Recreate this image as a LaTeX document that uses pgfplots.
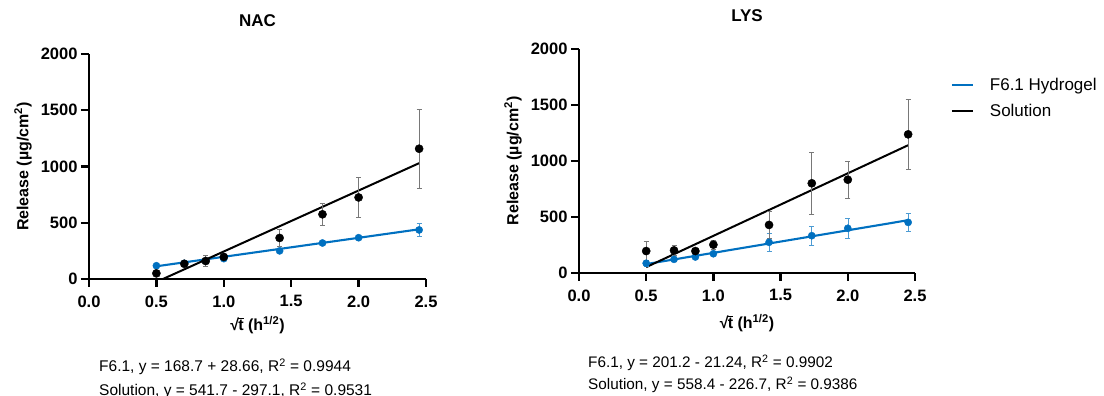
\documentclass[border=0pt]{standalone}
\usepackage{fontspec}
\setmainfont{Liberation Sans}
\usepackage{pgfplots}
\pgfplotsset{compat=1.18}
\definecolor{hblue}{RGB}{0,112,192}
\definecolor{ebgray}{RGB}{120,120,120}
\newcommand{\sqt}{\mbox{√\kern-0.05em$\overline{\mbox{\bfseries t}}$}}
\pgfplotsset{
  relstyle/.style={
    scale only axis,
    xmin=0, xmax=2.5, ymin=0, ymax=2000,
    axis lines=left,
    axis line style={-, line width=2.6pt},
    major tick style={line width=2.4pt, black},
    tick align=outside,
    major tick length=8pt,
    xtick={0,0.5,1,1.5,2,2.5},
    xticklabels={0.0,0.5,1.0,1.5,2.0,2.5},
    ytick={0,500,1000,1500,2000},
    yticklabels={0,500,1000,1500,2000},
    tick label style={font=\bfseries\fontsize{16.5}{16.5}\selectfont},
    xticklabel style={yshift=-5pt},
    /pgf/number format/assume math mode=true,
    xlabel style={at={(axis description cs:0.5,0)}, anchor=center, font=\bfseries\fontsize{16}{16}\selectfont},
    ylabel style={at={(axis description cs:-0.196,0.5)}, anchor=center, font=\bfseries\fontsize{16}{16}\selectfont},
    title style={at={(axis description cs:0.5,1)}, anchor=center, yshift=27pt, font=\bfseries\fontsize{17}{17}\selectfont},
    xlabel={\sqt{} (h\textsuperscript{1/2})},
    ylabel={Release (µg/cm\textsuperscript{2})},
  },
  solerr/.style={only marks, mark=*, mark size=4.1pt, black, mark options={fill=black, draw=black},
    error bars/.cd, y dir=both, y explicit,
    error bar style={ebgray, line width=0.6pt},
    error mark options={rotate=90, mark size=2.5pt, ebgray, line width=0.6pt}},
  hyderr/.style={only marks, mark=*, mark size=3.6pt, hblue, mark options={fill=hblue, draw=hblue},
    error bars/.cd, y dir=both, y explicit,
    error bar style={hblue!70, line width=0.6pt},
    error mark options={rotate=90, mark size=2.5pt, hblue!70, line width=0.6pt}},
}
\begin{document}
\begin{tikzpicture}
\useasboundingbox (0,0) rectangle (1104pt,396pt);
% ---------------- NAC ----------------
\begin{axis}[relstyle, at={(89pt,117pt)}, anchor=south west,
  width=337pt, height=225pt, title={NAC}, xlabel style={yshift=-46pt}]
\addplot[hblue, line width=2.1pt, forget plot] coordinates {(0.5,113.0) (2.449,441.8)};
\addplot[black, line width=2pt, forget plot] coordinates {(0.5485,0) (2.449,1029.5)};
\addplot[forget plot, hyderr] coordinates {
(0.5,118) +- (0,10)
(0.707,139) +- (0,10)
(0.866,160) +- (0,12)
(1.0,181) +- (0,12)
(1.414,250) +- (0,15)
(1.732,320) +- (0,15)
(2.0,367) +- (0,15)
(2.449,436) +- (0,58)
};
\addplot[forget plot, solerr] coordinates {
(0.5,50) +- (0,15)
(0.707,135) +- (0,20)
(0.866,160) +- (0,50)
(1.0,196) +- (0,25)
(1.414,365) +- (0,75)
(1.732,575) +- (0,95)
(2.0,725) +- (0,177)
(2.449,1158) +- (0,350)
};
\end{axis}
% ---------------- LYS ----------------
\begin{axis}[relstyle, at={(579pt,123pt)}, anchor=south west,
  width=336pt, height=224pt, title={LYS}, xlabel style={yshift=-50pt},
  legend style={at={(axis description cs:1.106,0.879)}, anchor=north west, draw=none, fill=none,
    font=\fontsize{17}{17}\selectfont, row sep=8pt, inner sep=0pt,
    /tikz/every odd column/.append style={column sep=14pt}},
  legend cell align=left,
  legend image code/.code={\draw[#1] (0pt,0pt) -- (21pt,0pt);}]
\addplot[hblue, line width=2.1pt, forget plot] coordinates {(0.5,79.4) (2.449,471.5)};
\addplot[black, line width=2pt, forget plot] coordinates {(0.5,52.5) (2.449,1140.8)};
\addplot[forget plot, hyderr] coordinates {
(0.5,87) +- (0,30)
(0.707,122) +- (0,15)
(0.866,143) +- (0,15)
(1.0,172) +- (0,15)
(1.414,274) +- (0,80)
(1.732,333) +- (0,88)
(2.0,399) +- (0,92)
(2.449,452) +- (0,83)
};
\addplot[forget plot, solerr] coordinates {
(0.5,196) +- (0,87)
(0.707,202) +- (0,42)
(0.866,196) +- (0,20)
(1.0,253) +- (0,40)
(1.414,429) +- (0,118)
(1.732,801) +- (0,278)
(2.0,833) +- (0,166)
(2.449,1238) +- (0,313)
};
\addlegendimage{hblue, line width=2.1pt}
\addlegendentry{F6.1 Hydrogel}
\addlegendimage{black, line width=2pt}
\addlegendentry{Solution}
\end{axis}
% ---------------- equations ----------------
\node[anchor=west, align=left, font=\fontsize{15.5}{24}\selectfont, inner sep=0pt] at (99pt,17pt)
  {F6.1, y = 168.7 + 28.66, R\textsuperscript{2} = 0.9944\\Solution, y = 541.7 - 297.1, R\textsuperscript{2} = 0.9531};
\node[anchor=west, align=left, font=\fontsize{15.3}{22}\selectfont, inner sep=0pt] at (588pt,22pt)
  {F6.1, y = 201.2 - 21.24, R\textsuperscript{2} = 0.9902\\Solution, y = 558.4 - 226.7, R\textsuperscript{2} = 0.9386};
\end{tikzpicture}
\end{document}
